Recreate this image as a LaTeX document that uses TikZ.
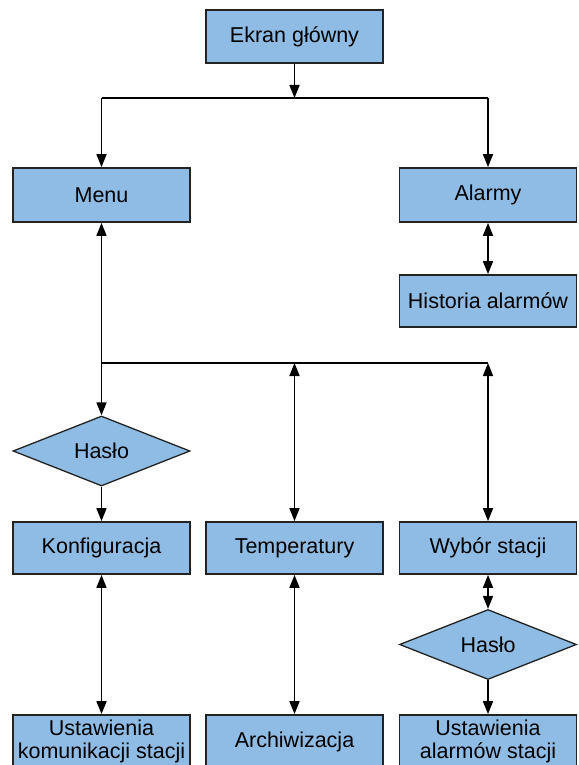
\documentclass[tikz,border=0pt]{standalone}
\usepackage{fontspec}
\setmainfont{Liberation Sans}
\usetikzlibrary{arrows.meta,shapes.geometric}
\definecolor{boxblue}{RGB}{142,188,228}
\definecolor{boxline}{RGB}{35,35,35}
\tikzset{
  box/.style={draw=boxline, line width=1.8pt, fill=boxblue, rectangle,
    minimum width=177pt, minimum height=53pt, inner sep=0pt, align=center,
    font=\fontsize{21.5}{23}\selectfont},
  dia/.style={draw=boxline, line width=1.3pt, fill=boxblue, diamond, aspect=2.5,
    minimum width=177pt, minimum height=70pt, inner sep=0pt,
    font=\fontsize{21.5}{23}\selectfont},
  conn/.style={line width=1.7pt, black},
  arr/.style={conn, -{Triangle[length=13pt,width=10pt]}},
  darr/.style={conn, {Triangle[length=13pt,width=10pt]}-{Triangle[length=13pt,width=10pt]}},
}
\begin{document}
\begin{tikzpicture}[x=1pt,y=-1pt]
\useasboundingbox[fill=white] (0,0) rectangle (578,765);
\node[box] (ekran) at (294.5,36.5) {Ekran główny};
\node[box, minimum height=54pt] (menu) at (101.5,195) {Menu};
\node[box, minimum height=54pt] (alarmy) at (488,195) {Alarmy};
\node[box, minimum height=52pt] (hist) at (488,301) {Historia alarmów};
\node[dia] (hasloL) at (101.5,451) {Hasło};
\node[box, minimum height=52pt] (konf) at (101.5,548) {Konfiguracja};
\node[box, minimum height=52pt] (temp) at (294.5,548) {Temperatury};
\node[box, minimum height=52pt] (wybor) at (488,548) {Wybór stacji};
\node[dia] (hasloR) at (488,644.5) {Hasło};
\node[box] (ust1) at (101.5,741.5) {Ustawienia\\komunikacji stacji};
\node[box] (arch) at (294.5,741.5) {Archiwizacja};
\node[box] (ust2) at (488,741.5) {Ustawienia\\alarmów stacji};

\coordinate (j1) at (294.5,98);
\coordinate (j1l) at (101.5,98);
\coordinate (j1r) at (488,98);
\coordinate (j2l) at (101.5,363);
\coordinate (j2m) at (294.5,363);
\coordinate (j2r) at (488,363);

\draw[arr] (ekran.south) -- (j1);
\draw[conn] (j1l) -- (j1r);
\draw[arr] (j1l) -- (menu.north);
\draw[arr] (j1r) -- (alarmy.north);
\draw[darr] (alarmy.south) -- (hist.north);
\draw[darr] (menu.south) -- (hasloL.north);
\draw[conn] (j2l) -- (j2r);
\draw[darr] (j2m) -- (temp.north);
\draw[darr] (j2r) -- (wybor.north);
\draw[arr] (hasloL.south) -- (konf.north);
\draw[darr] (konf.south) -- (ust1.north);
\draw[darr] (temp.south) -- (arch.north);
\draw[darr] (wybor.south) -- (hasloR.north);
\draw[arr] (hasloR.south) -- (ust2.north);
\end{tikzpicture}
\end{document}
